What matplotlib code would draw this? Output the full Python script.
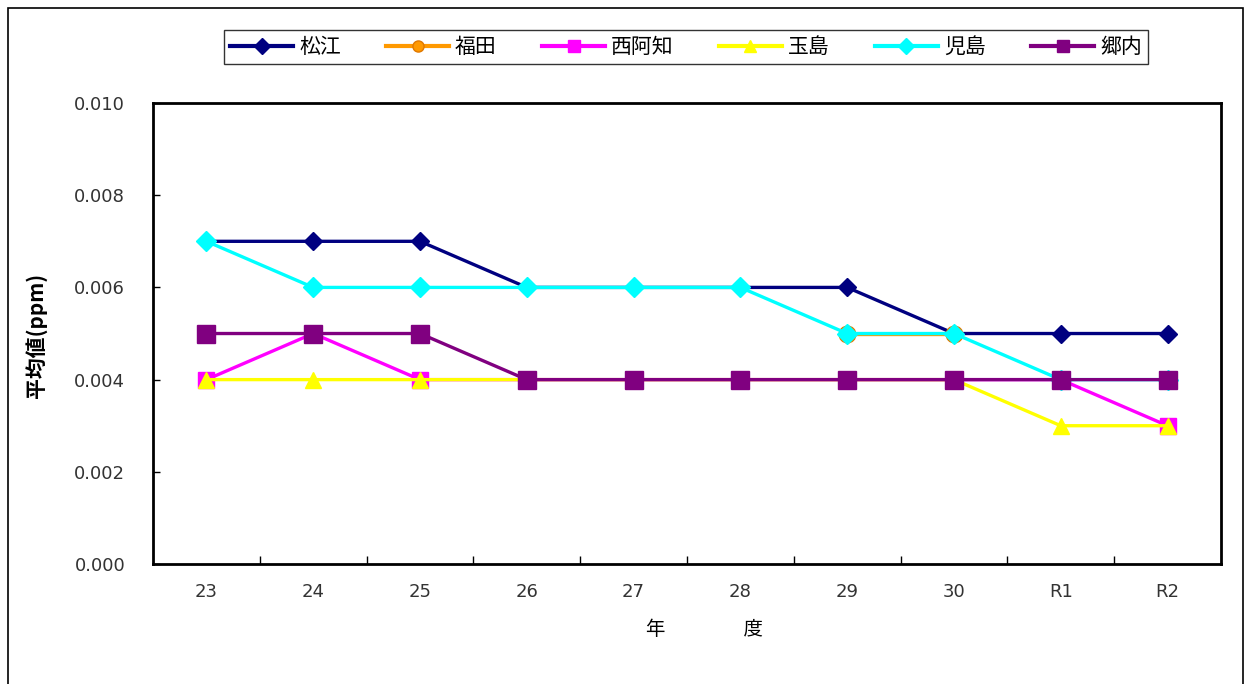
import matplotlib
matplotlib.use("Agg")
import matplotlib.pyplot as plt
import numpy as np
from matplotlib.patches import Rectangle

plt.rcParams["font.family"] = ["Noto Sans CJK JP", "DejaVu Sans"]

years = ["23", "24", "25", "26", "27", "28", "29", "30", "R1", "R2"]
nan = np.nan
matsue = [0.007, 0.007, 0.007, 0.006, 0.006, 0.006, 0.006, 0.005, 0.005, 0.005]
fukuda = [nan, nan, nan, nan, nan, nan, 0.005, 0.005, nan, nan]
nishiachi = [0.004, 0.005, 0.004, 0.004, 0.004, 0.004, 0.004, 0.004, 0.004, 0.003]
tamashima = [0.004, 0.004, 0.004, 0.004, 0.004, 0.004, 0.004, 0.004, 0.003, 0.003]
kojima = [0.007, 0.006, 0.006, 0.006, 0.006, 0.006, 0.005, 0.005, 0.004, 0.004]
gounai = [0.005, 0.005, 0.005, 0.004, 0.004, 0.004, 0.004, 0.004, 0.004, 0.004]

series = [
    ("松江", matsue, "#000080", "D", 9, "#000080"),
    ("福田", fukuda, "#FF9900", "o", 12, "#E07800"),
    ("西阿知", nishiachi, "#FF00FF", "s", 12, "#FF00FF"),
    ("玉島", tamashima, "#FFFF00", "^", 12, "#FFFF00"),
    ("児島", kojima, "#00FFFF", "D", 10, "#00FFFF"),
    ("郷内", gounai, "#800080", "s", 13, "#800080"),
]

fig = plt.figure(figsize=(12.47, 6.84), dpi=100)
ax = fig.add_axes([0.1227, 0.1754, 0.8564, 0.674])

# outer chart-area frame
fig.patches.append(Rectangle((8 / 1247, -0.05), 1235 / 1247, 1 - 8 / 684 + 0.05,
                             transform=fig.transFigure, fill=False,
                             edgecolor="black", linewidth=1.2))

x = np.arange(len(years))
for name, vals, color, marker, ms, edge in series:
    ax.plot(x, vals, color=color, linewidth=2.4, marker=marker, markersize=ms,
            markerfacecolor=color, markeredgecolor=edge, markeredgewidth=1.0,
            label=name)

ax.set_xlim(-0.5, len(years) - 0.5)
ax.set_ylim(0, 0.010)
yt = np.arange(0, 0.0101, 0.002)
ax.set_yticks(yt)
ax.set_yticklabels([f"{v:.3f}" for v in yt], family="DejaVu Sans")
ax.set_xticks(x)
ax.set_xticklabels(years, family="DejaVu Sans")
ax.set_xticks(x[:-1] + 0.5, minor=True)
ax.tick_params(axis="x", which="major", length=0, pad=14, labelsize=13, labelcolor="#333333")
ax.tick_params(axis="x", which="minor", direction="in", length=6, width=1)
ax.tick_params(axis="y", which="major", direction="in", length=5, width=1,
               pad=20, labelsize=13, labelcolor="#333333")
for s in ax.spines.values():
    s.set_linewidth(2)

ax.set_xlabel("年　　　　度", fontsize=14)
ax.xaxis.set_label_coords((705 - 153) / 1068, -(619 - 564) / 461)
ax.set_ylabel("平均値(ppm)", fontsize=15, fontweight="bold")
ax.yaxis.set_label_coords((47 - 153) / 1068, (564 - 335) / 461)

leg = ax.legend(loc="center", bbox_to_anchor=(224 / 1247, 1 - 66 / 684, 924 / 1247, 38 / 684),
                bbox_transform=fig.transFigure, ncol=6, mode="expand", fontsize=15,
                frameon=True, fancybox=False, edgecolor="black", handlelength=3.0,
                handletextpad=0.3, borderaxespad=0, borderpad=0.3)
leg.get_frame().set_linewidth(1.0)
for h in leg.legend_handles:
    h.set_markersize(8)
    h.set_linewidth(3)

fig.savefig("out.png", dpi=100)
